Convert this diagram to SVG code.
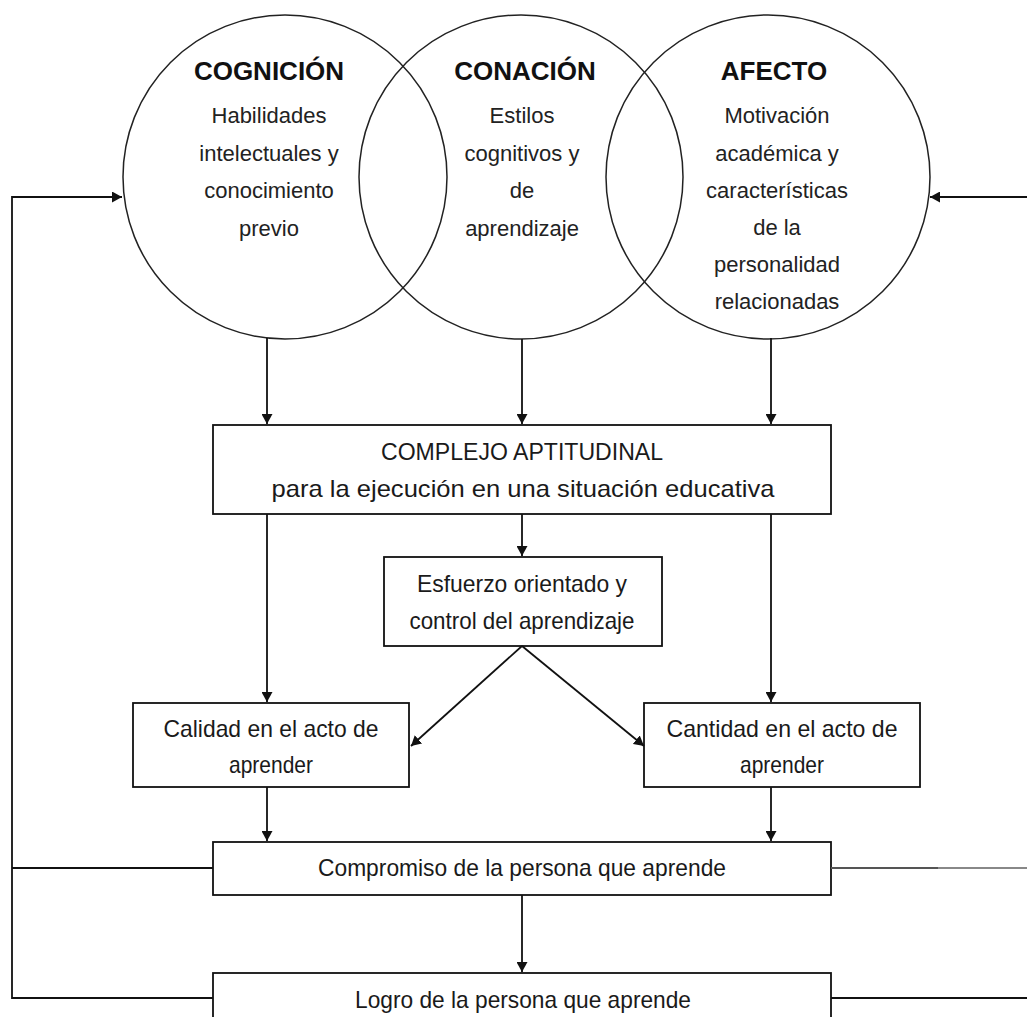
<svg xmlns="http://www.w3.org/2000/svg" width="1027" height="1017" viewBox="0 0 1027 1017">
  <style>
    .ring { fill: none; stroke: #222; stroke-width: 1.5; }
    .box { fill: #fff; stroke: #111; stroke-width: 1.8; }
    .title { font-family: "Liberation Sans", Arial, sans-serif; font-weight: bold; font-size: 26px; fill: #111; text-anchor: middle; }
    .body { font-family: "Liberation Sans", Arial, sans-serif; font-size: 22px; fill: #222; text-anchor: middle; }
    .lbl { font-family: "Liberation Sans", Arial, sans-serif; font-size: 24px; fill: #1a1a1a; text-anchor: middle; }
    .wire { fill: none; stroke: #111; stroke-width: 1.8; }
    .arrow { marker-end: url(#head); }
  </style>
  <defs>
    <marker id="head" markerWidth="10" markerHeight="11" refX="10" refY="5.5" orient="auto" markerUnits="userSpaceOnUse">
      <path d="M0,0 L10,5.5 L0,11 Z" fill="#111"/>
    </marker>
  </defs>
  <rect width="1027" height="1017" fill="#fff"/>

  <!-- three overlapping domains -->
  <g id="cognicion">
    <circle class="ring" cx="285" cy="177" r="162"/>
    <text class="title" x="269" y="80">COGNICIÓN</text>
    <text class="body" x="269" y="123">Habilidades</text>
    <text class="body" x="269" y="161">intelectuales y</text>
    <text class="body" x="269" y="198">conocimiento</text>
    <text class="body" x="269" y="236">previo</text>
  </g>
  <g id="conacion">
    <circle class="ring" cx="521" cy="177" r="162"/>
    <text class="title" x="525" y="80">CONACIÓN</text>
    <text class="body" x="522" y="123">Estilos</text>
    <text class="body" x="522" y="161">cognitivos y</text>
    <text class="body" x="522" y="198">de</text>
    <text class="body" x="522" y="236">aprendizaje</text>
  </g>
  <g id="afecto">
    <circle class="ring" cx="768" cy="177" r="162"/>
    <text class="title" x="774" y="80">AFECTO</text>
    <text class="body" x="777" y="123">Motivación</text>
    <text class="body" x="777" y="161">académica y</text>
    <text class="body" x="777" y="198">características</text>
    <text class="body" x="777" y="235">de la</text>
    <text class="body" x="777" y="272">personalidad</text>
    <text class="body" x="777" y="309">relacionadas</text>
  </g>

  <!-- process boxes -->
  <g id="complejo">
    <rect class="box" x="213" y="425" width="618" height="89"/>
    <text class="lbl" x="522" y="460" textLength="282" lengthAdjust="spacingAndGlyphs">COMPLEJO APTITUDINAL</text>
    <text class="lbl" x="523" y="497" textLength="503" lengthAdjust="spacingAndGlyphs">para la ejecución  en una  situación educativa</text>
  </g>
  <g id="esfuerzo">
    <rect class="box" x="384" y="557" width="278" height="89"/>
    <text class="lbl" x="522" y="592" textLength="210" lengthAdjust="spacingAndGlyphs">Esfuerzo orientado  y</text>
    <text class="lbl" x="522" y="629" textLength="225" lengthAdjust="spacingAndGlyphs">control del  aprendizaje</text>
  </g>
  <g id="calidad">
    <rect class="box" x="133" y="703" width="276" height="84"/>
    <text class="lbl" x="271" y="737" textLength="215" lengthAdjust="spacingAndGlyphs">Calidad en el acto de</text>
    <text class="lbl" x="271" y="773" textLength="84" lengthAdjust="spacingAndGlyphs">aprender</text>
  </g>
  <g id="cantidad">
    <rect class="box" x="644" y="703" width="276" height="84"/>
    <text class="lbl" x="782" y="737" textLength="231" lengthAdjust="spacingAndGlyphs">Cantidad en el acto de</text>
    <text class="lbl" x="782" y="773" textLength="84" lengthAdjust="spacingAndGlyphs">aprender</text>
  </g>
  <g id="compromiso">
    <rect class="box" x="213" y="842" width="618" height="53"/>
    <text class="lbl" x="522" y="876" textLength="408" lengthAdjust="spacingAndGlyphs">Compromiso de la persona  que  aprende</text>
  </g>
  <g id="logro">
    <rect class="box" x="213" y="973" width="618" height="60"/>
    <text class="lbl" x="523" y="1008" textLength="336" lengthAdjust="spacingAndGlyphs">Logro de la persona  que aprende</text>
  </g>

  <!-- connectors -->
  <g id="connectors">
    <line class="wire arrow" x1="267" y1="338" x2="267" y2="424"/>
    <line class="wire arrow" x1="522" y1="339" x2="522" y2="424"/>
    <line class="wire arrow" x1="771" y1="338" x2="771" y2="424"/>

    <line class="wire arrow" x1="267" y1="514" x2="267" y2="702"/>
    <line class="wire arrow" x1="522" y1="514" x2="522" y2="556"/>
    <line class="wire arrow" x1="771" y1="514" x2="771" y2="702"/>

    <line class="wire arrow" x1="522" y1="646" x2="411" y2="746"/>
    <line class="wire arrow" x1="522" y1="646" x2="644" y2="746"/>

    <line class="wire arrow" x1="267" y1="787" x2="267" y2="841"/>
    <line class="wire arrow" x1="771" y1="787" x2="771" y2="841"/>
    <line class="wire arrow" x1="522" y1="895" x2="522" y2="972"/>

    <!-- feedback loop on the left -->
    <polyline class="wire" points="213,868 12,868"/>
    <polyline class="wire arrow" points="213,998 12,998 12,197 122,197"/>

    <!-- feedback loop on the right -->
    <line x1="831" y1="868" x2="938" y2="868" stroke="#555" stroke-width="2"/>
    <line x1="938" y1="868" x2="1027" y2="868" stroke="#888" stroke-width="2.2"/>
    <line class="wire" x1="831" y1="998" x2="1027" y2="998"/>
    <line class="wire arrow" x1="1027" y1="197" x2="930" y2="197"/>
  </g>
</svg>
